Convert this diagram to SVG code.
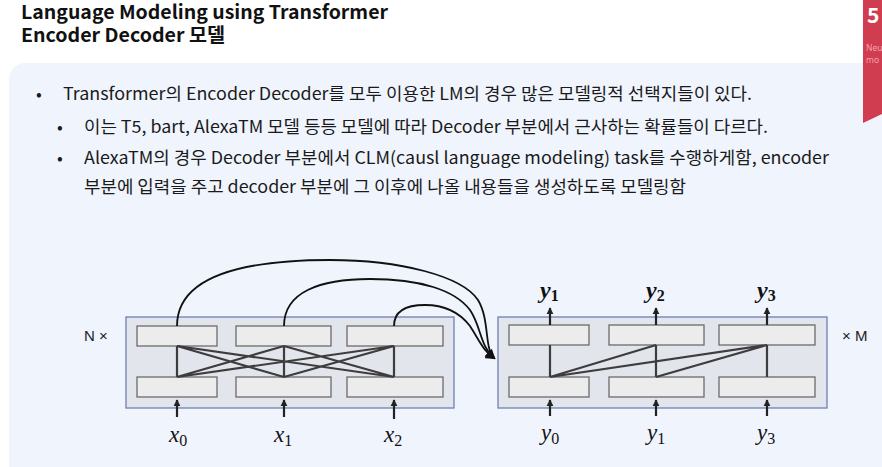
<svg xmlns="http://www.w3.org/2000/svg" width="882" height="467" viewBox="0 0 882 467">
<defs>
<style>
.title{font-family:"Noto Sans CJK KR","Noto Sans",sans-serif;font-weight:bold;font-size:19px;fill:#111}
.body{font-family:"Noto Sans CJK KR","Noto Sans",sans-serif;font-size:17px;fill:#1a1a1a}
.lab{font-family:"Liberation Sans","Noto Sans",sans-serif;font-size:15px;fill:#222}
.math{font-family:"Liberation Serif","DejaVu Serif",serif;font-style:italic;font-size:23px;fill:#111}
.mathb{font-family:"Liberation Serif","DejaVu Serif",serif;font-style:italic;font-weight:bold;font-size:24px;fill:#111}
.sub{font-style:normal;font-size:16px}
.panel{fill:#e3e5ec;stroke:#6f80b2;stroke-width:1.3}
.box{fill:#ececec;stroke:#6c6c6c;stroke-width:1.3}
.conn{stroke:#3d3d3d;stroke-width:2.2;fill:none}
.arr{stroke:#222;stroke-width:2.2;fill:none;marker-end:url(#ah)}
.curve{stroke:#111;stroke-width:1.8;fill:none;marker-end:url(#ah2)}
</style>
<marker id="ah" viewBox="0 0 10 10" refX="9" refY="5" markerWidth="3.2" markerHeight="3.2" orient="auto" markerUnits="strokeWidth">
<path d="M0,0 L10,5 L0,10 z" fill="#222"/>
</marker>
<marker id="ah2" viewBox="0 0 10 10" refX="8" refY="5" markerWidth="5.5" markerHeight="5.5" orient="auto" markerUnits="strokeWidth">
<path d="M0,0 L10,5 L0,10 z" fill="#111"/>
</marker>
</defs>
<rect width="882" height="467" fill="#ffffff"/>
<rect x="9" y="63" width="900" height="440" rx="16" fill="#f0f4fd"/>
<polygon points="863,0 882,0 882,114 863,123" fill="#d03c50"/>
<text x="867" y="23" font-family="Noto Sans CJK KR, Noto Sans, sans-serif" font-weight="bold" font-size="21" fill="#ffffff">5</text>
<text x="866" y="51" font-family="Noto Sans, sans-serif" font-size="8.5" fill="#f3a6b4">Neu</text>
<text x="866" y="63" font-family="Noto Sans, sans-serif" font-size="8.5" fill="#f3a6b4">mo</text>

<text class="title" x="21" y="19" textLength="367" lengthAdjust="spacingAndGlyphs">Language Modeling using Transformer</text>
<text class="title" x="21" y="42" textLength="204" lengthAdjust="spacingAndGlyphs">Encoder Decoder 모델</text>

<g id="bullets">
<text class="body" x="36" y="100">•</text>
<text class="body" x="63" y="100" textLength="689" lengthAdjust="spacingAndGlyphs">Transformer의 Encoder Decoder를 모두 이용한 LM의 경우 많은 모델링적 선택지들이 있다.</text>
<text class="body" x="57" y="133">•</text>
<text class="body" x="84" y="133" textLength="684" lengthAdjust="spacingAndGlyphs">이는 T5, bart, AlexaTM 모델 등등 모델에 따라 Decoder 부분에서 근사하는 확률들이 다르다.</text>
<text class="body" x="57" y="164">•</text>
<text class="body" x="84" y="164" textLength="745" lengthAdjust="spacingAndGlyphs">AlexaTM의 경우 Decoder 부분에서 CLM(causl language modeling) task를 수행하게함, encoder</text>
<text class="body" x="84" y="193" textLength="602" lengthAdjust="spacingAndGlyphs">부분에 입력을 주고 decoder 부분에 그 이후에 나올 내용들을 생성하도록 모델링함</text>
</g>

<g id="encoder">
<rect class="panel" x="126" y="317" width="328" height="91"/>
<rect class="box" x="137" y="326" width="80" height="20"/>
<rect class="box" x="236" y="326" width="95" height="20"/>
<rect class="box" x="347" y="326" width="96" height="20"/>
<rect class="box" x="137" y="377" width="80" height="20"/>
<rect class="box" x="236" y="377" width="95" height="20"/>
<rect class="box" x="347" y="377" width="96" height="20"/>
<text class="lab" x="84" y="341">N ×</text>
</g>

<g id="decoder">
<rect class="panel" x="498" y="317" width="329" height="91"/>
<rect class="box" x="509" y="325" width="80" height="20"/>
<rect class="box" x="609" y="325" width="95" height="20"/>
<rect class="box" x="719" y="325" width="96" height="20"/>
<rect class="box" x="509" y="377" width="80" height="20"/>
<rect class="box" x="609" y="377" width="95" height="20"/>
<rect class="box" x="719" y="377" width="96" height="20"/>
<text class="lab" x="842" y="341">× M</text>
</g>

<g id="labels">
<text class="math" x="169" y="442">x<tspan class="sub" dy="4">0</tspan></text>
<text class="math" x="274" y="442">x<tspan class="sub" dy="4">1</tspan></text>
<text class="math" x="384" y="442">x<tspan class="sub" dy="4">2</tspan></text>
<text class="math" x="541" y="440">y<tspan class="sub" dy="4">0</tspan></text>
<text class="math" x="647" y="440">y<tspan class="sub" dy="4">1</tspan></text>
<text class="math" x="757" y="440">y<tspan class="sub" dy="4">3</tspan></text>
<text class="mathb" x="540" y="298">y<tspan class="sub" dy="3">1</tspan></text>
<text class="mathb" x="646" y="298">y<tspan class="sub" dy="3">2</tspan></text>
<text class="mathb" x="757" y="298">y<tspan class="sub" dy="3">3</tspan></text>
</g>

<g id="connectors">
<path class="conn" d="M177,346V377M284,346V377M394,346V377M177,346L284,377M177,346L394,377M284,346L177,377M284,346L394,377M394,346L177,377M394,346L284,377"/>
<path class="conn" d="M550,345V377M656,345V377M767,345V377M550,377L656,345M550,377L767,345M656,377L767,345"/>
<path class="arr" d="M177,417V400"/>
<path class="arr" d="M284,417V400"/>
<path class="arr" d="M394,419V400"/>
<path class="arr" d="M550,416V400"/>
<path class="arr" d="M656,416V400"/>
<path class="arr" d="M767,416V400"/>
<path class="arr" d="M550,325V308"/>
<path class="arr" d="M656,325V308"/>
<path class="arr" d="M767,325V308"/>
<path class="curve" d="M177,326C177,272 255,260 330,260C400,260 462,276 478,300C490,320 484,348 494,358"/>
<path class="curve" d="M284,326C284,292 320,279 370,279C420,279 455,290 470,310C481,326 480,346 494,358"/>
<path class="curve" d="M394,326C394,312 405,305 425,305C445,305 460,313 470,326C479,340 484,352 494,358"/>
</g>
</svg>
